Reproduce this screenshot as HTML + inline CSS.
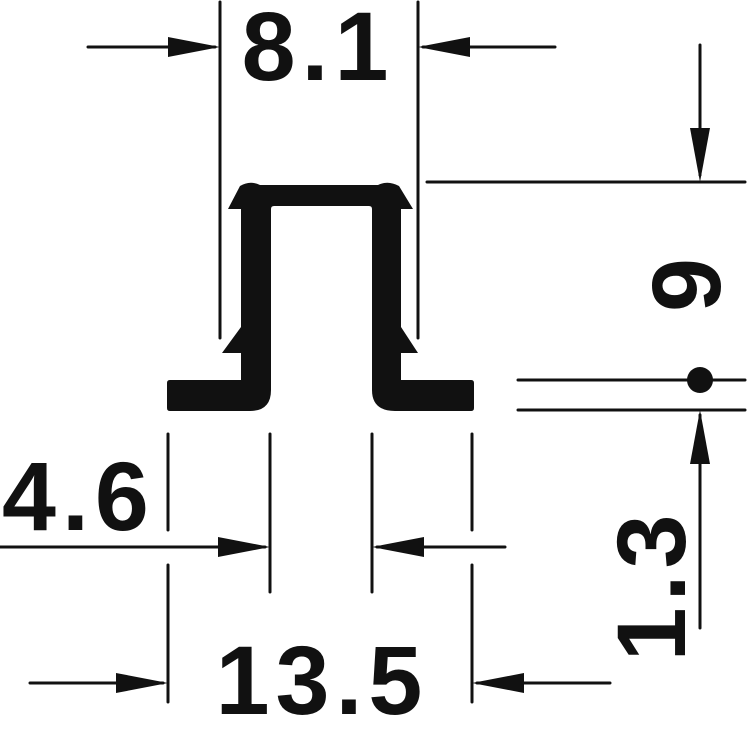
<!DOCTYPE html>
<html><head><style>html,body{margin:0;padding:0;background:#fff}svg{display:block}</style></head><body>
<svg width="747" height="730" viewBox="0 0 747 730" xmlns="http://www.w3.org/2000/svg">
<g stroke="#111" stroke-width="3" stroke-linecap="round" fill="none">
<line x1="220" y1="2" x2="220" y2="338"/>
<line x1="418" y1="2" x2="418" y2="338"/>
<line x1="88" y1="47" x2="215" y2="47"/>
<line x1="423" y1="47" x2="555" y2="47"/>
<line x1="427" y1="182" x2="745" y2="182"/>
<line x1="700" y1="45" x2="700" y2="175"/>
<line x1="518" y1="380" x2="745" y2="380"/>
<line x1="518" y1="410" x2="745" y2="410"/>
<line x1="700" y1="415" x2="700" y2="628"/>
<line x1="168" y1="434" x2="168" y2="530"/>
<line x1="168" y1="565" x2="168" y2="702"/>
<line x1="472" y1="434" x2="472" y2="530"/>
<line x1="472" y1="565" x2="472" y2="702"/>
<line x1="270" y1="434" x2="270" y2="592"/>
<line x1="372" y1="434" x2="372" y2="592"/>
<line x1="0" y1="547" x2="265" y2="547"/>
<line x1="377" y1="547" x2="505" y2="547"/>
<line x1="30" y1="683" x2="163" y2="683"/>
<line x1="477" y1="683" x2="610" y2="683"/>
</g>
<g fill="#111">
<polygon points="220,47 168,37 168,57"/>
<polygon points="418,47 470,37 470,57"/>
<polygon points="700,182 690,128 710,128"/>
<polygon points="700,410 690,464 710,464"/>
<polygon points="270,547 218,537 218,557"/>
<polygon points="372,547 424,537 424,557"/>
<polygon points="168,683 116,673 116,693"/>
<polygon points="472,683 524,673 524,693"/>
<circle cx="700" cy="380" r="13"/>
<path d="M228,209 L240,186 Q250,180 260,185 L378,185 Q388,180 399,186 L413,209 L401,209 L401,327 L418,353 L401,353 L401,380 L471,380 Q474,380 474,383 L474,408 Q474,411 471,411 L395,411 Q372,411 372,390 L372,209 Q372,206 369,206 L274,206 Q271,206 271,209 L271,390 Q271,411 250,411 L170,411 Q167,411 167,408 L167,383 Q167,380 170,380 L241,380 L241,353 L222,353 L241,327 L241,209 Z"/>
</g>
<g font-family="Liberation Sans, sans-serif" font-weight="bold" font-size="97" fill="#111">
<text x="318" y="80" text-anchor="middle" letter-spacing="6">8.1</text>
<text x="2" y="530" letter-spacing="6">4.6</text>
<text x="322" y="714" text-anchor="middle" letter-spacing="6">13.5</text>
<text transform="translate(720,285) rotate(-90)" text-anchor="middle">9</text>
<text transform="translate(685,585) rotate(-90)" text-anchor="middle" letter-spacing="6">1.3</text>
</g>
</svg>
</body></html>
